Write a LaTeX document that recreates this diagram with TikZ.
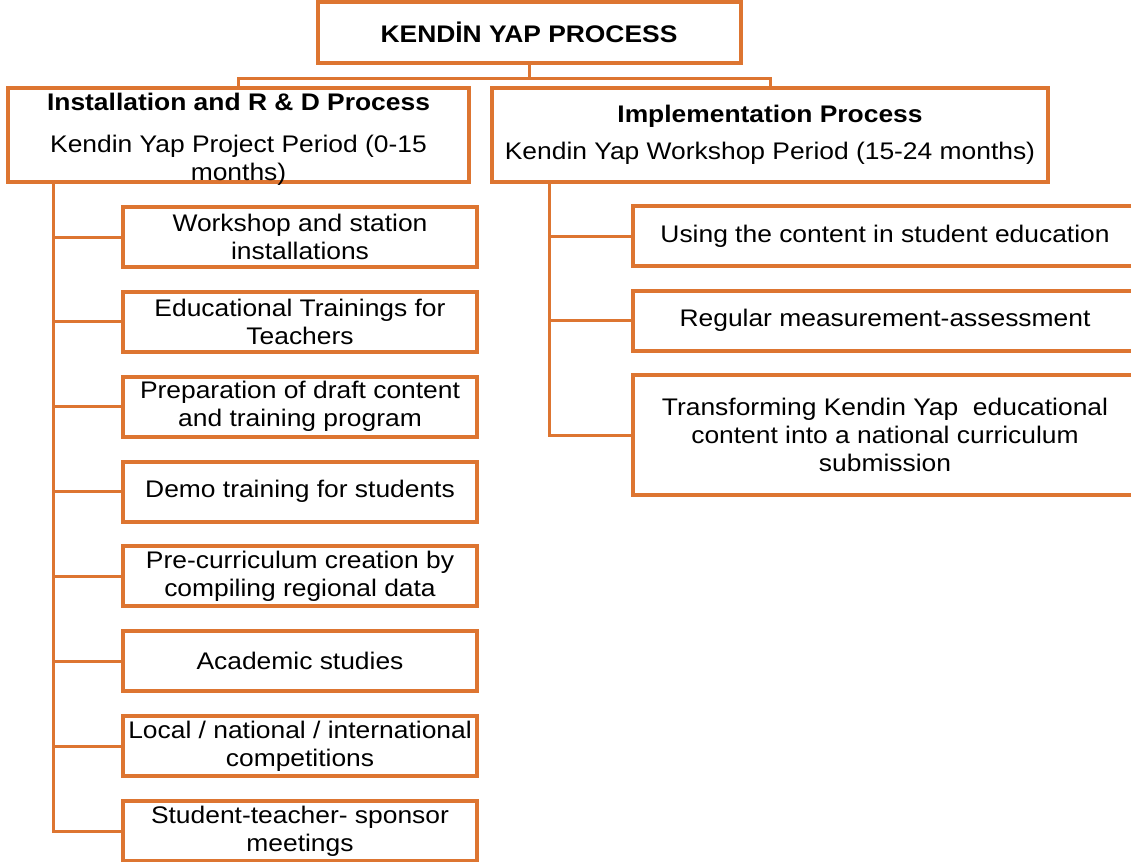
\documentclass[tikz,border=0pt]{standalone}
\usepackage{fontspec}
\setmainfont{Liberation Sans}[FakeStretch=1.1]
\usepackage{tikz}
\usetikzlibrary{positioning}
\definecolor{orng}{RGB}{221,117,49}

\begin{document}
\begin{tikzpicture}[x=1pt, y=-1pt,
every node/.style = {draw=orng, line width=4pt, inner sep=0pt, align=center,
  font=\fontsize{24pt}{28pt}\selectfont},
  proc/.style = {minimum height=94pt},
  task/.style = {minimum width=354pt, minimum height=60pt, node distance=20.86pt},
  rtask/.style = {minimum width=504pt, minimum height=60pt, node distance=20.5pt},
  link/.style = {orng, line width=3pt}
]
\useasboundingbox (0,0) rectangle (1131,861);
\node (top) [minimum width=423pt, minimum height=61pt] at (529,32.5) {\textbf{KENDİN YAP PROCESS}};
\node (left) [proc, minimum width=461pt, text depth=0pt] at (238.5,135) {\rule{0pt}{20pt}\textbf{Installation and R \& D Process}\\[14pt]Kendin Yap Project Period (0-15\\months)};
\node (right) [proc, minimum width=556pt] at (770,135) {\textbf{Implementation Process}\\[9pt]Kendin Yap Workshop Period (15-24 months)};
% left column
\node (l1) [task] at (300,237) {Workshop and station\\installations};
\node (l2) [task, below=of l1] {Educational Trainings for\\Teachers};
\node (l3) [task, below=of l2] {Preparation of draft content\\and training program};
\node (l4) [task, below=of l3] {Demo training for students};
\node (l5) [task, below=of l4] {Pre-curriculum creation by\\compiling regional data};
\node (l6) [task, below=of l5] {Academic studies};
\node (l7) [task, below=of l6] {Local / national / international\\competitions};
\node (l8) [task, below=of l7] {Student-teacher- sponsor\\meetings};
% right column
\node (r1) [rtask] at (885,236) {Using the content in student education};
\node (r2) [rtask, below=of r1] {Regular measurement-assessment};
\node (r3) [rtask, minimum height=120pt, below=of r2] {Transforming Kendin Yap\ \ educational\\content into a national curriculum\\submission};
\coordinate (lt) at ([xshift=47pt]left.south west);
\coordinate (rt) at ([xshift=59pt]right.south west);
\draw[link] (top.south) -- ++(0pt,-14pt) -| (left.north);
\draw[link] (top.south) -- ++(0pt,-14pt) -| (right.north);
\foreach \i in {1,...,8}
  \draw[link] (lt) |- (l\i.west);
\foreach \i in {1,...,3}
  \draw[link] (rt) |- (r\i.west);
\end{tikzpicture}
\end{document}
